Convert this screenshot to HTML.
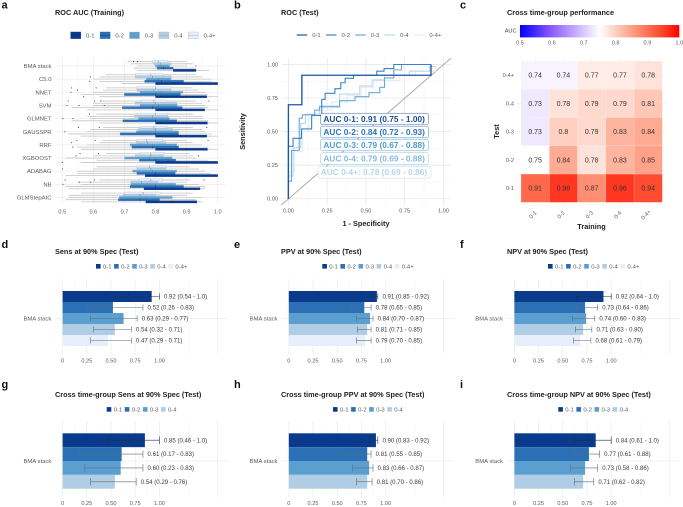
<!DOCTYPE html>
<html>
<head>
<meta charset="utf-8">
<style>
html,body{margin:0;padding:0;background:#fff;}
svg{display:block;font-family:"Liberation Sans",sans-serif;}
.pl{font-size:11px;font-weight:bold;fill:#111;}
.ti{font-size:7.3px;font-weight:bold;fill:#222;}
.at{font-size:7.3px;font-weight:bold;fill:#222;}
</style>
</head>
<body>
<svg id="fig" xmlns="http://www.w3.org/2000/svg" width="683" height="507" viewBox="0 0 683 507">
<rect x="0" y="0" width="683" height="507" fill="#fff"/>
<g id="layer"></g>
<text class="pl" x="1.5" y="8.5">a</text>
<text class="pl" x="234" y="8.5">b</text>
<text class="pl" x="460" y="8.5">c</text>
<text class="pl" x="1.5" y="248">d</text>
<text class="pl" x="234" y="248">e</text>
<text class="pl" x="460" y="248">f</text>
<text class="pl" x="1.5" y="388">g</text>
<text class="pl" x="234" y="388">h</text>
<text class="pl" x="460" y="388">i</text>
<text class="ti" x="55" y="15">ROC AUC (Training)</text>
<text class="ti" x="281" y="15">ROC (Test)</text>
<text class="ti" x="507" y="15">Cross time-group performance</text>
<text class="ti" x="55" y="254">Sens at 90% Spec (Test)</text>
<text class="ti" x="281" y="254">PPV at 90% Spec (Test)</text>
<text class="ti" x="507" y="254">NPV at 90% Spec (Test)</text>
<text class="ti" x="55" y="397">Cross time-group Sens at 90% Spec (Test)</text>
<text class="ti" x="281" y="397">Cross time-group PPV at 90% Spec (Test)</text>
<text class="ti" x="507" y="397">Cross time-group NPV at 90% Spec (Test)</text>
<text class="at" x="366" y="226" text-anchor="middle">1 - Specificity</text>
<text class="at" x="245" y="131.5" text-anchor="middle" transform="rotate(-90 245 131.5)">Sensitivity</text>
<text class="at" x="591.5" y="229" text-anchor="middle">Training</text>
<text class="at" x="499" y="131.5" text-anchor="middle" transform="rotate(-90 499 131.5)">Test</text>
</svg>
<script>
var groups = ['0-1','0-2','0-3','0-4','0-4+'];

/* Panel a: whisker-low, Q1, median, Q3, whisker-high for groups 0-1 .. 0-4+ */
var models = ['BMA stack','C5.0','NNET','SVM','GLMNET','GAUSSPR','RRF','XGBOOST','ADABAG','NB','GLMStepAIC'];
var aucBmaStack = [[.74,.857,.875,.93,.973],[.73,.805,.825,.857,.93],[.74,.8,.82,.845,.9],[.72,.795,.815,.85,.92],[.71,.79,.81,.84,.9]];
var aucC50 = [[.69,.8,.86,1,1],[.62,.765,.82,.89,.98],[.6,.77,.81,.85,.98],[.62,.735,.79,.85,.95],[.64,.735,.785,.825,.93]];
var aucNnet = [[.62,.8,.89,.965,1],[.56,.7,.8,.88,.97],[.6,.75,.82,.888,.96],[.63,.74,.795,.85,.94],[.64,.74,.8,.85,.92]];
var aucSvm = [[.58,.8,.875,.958,1],[.53,.693,.79,.886,.97],[.6,.75,.81,.87,.96],[.6,.735,.8,.868,.95],[.62,.755,.795,.836,.93]];
var aucGlmnet = [[.62,.8,.89,.967,1],[.53,.695,.8,.868,.97],[.59,.745,.79,.845,.95],[.58,.732,.79,.84,.95],[.61,.743,.8,.84,.92]];
var aucGausspr = [[.56,.8,.88,.965,1],[.52,.686,.8,.874,.98],[.58,.738,.8,.874,.96],[.59,.745,.8,.855,.95],[.63,.754,.795,.836,.92]];
var aucRrf = [[.56,.8,.85,.967,1],[.55,.724,.79,.874,.97],[.58,.718,.79,.868,.95],[.62,.738,.775,.833,.92],[.63,.74,.77,.823,.9]];
var aucXgboost = [[.56,.8,.87,1,1],[.61,.748,.8,.865,.97],[.51,.7,.78,.854,.93],[.6,.735,.785,.825,.92],[.64,.75,.785,.829,.91]];
var aucAdabag = [[.51,.767,.86,1,1],[.55,.74,.8,.863,.98],[.55,.726,.79,.868,.96],[.6,.74,.785,.833,.94],[.61,.74,.78,.836,.91]];
var aucNb = [[.52,.763,.85,.943,.96],[.51,.718,.8,.89,.96],[.56,.72,.8,.865,.94],[.55,.72,.755,.807,.9],[.62,.747,.785,.823,.91]];
var aucGlmStepAic = [[.56,.769,.85,.933,.95],[.51,.68,.75,.813,.93],[.52,.683,.77,.854,.95],[.52,.695,.75,.8,.9],[.56,.7,.76,.818,.92]];
var aucByModel = [aucBmaStack,aucC50,aucNnet,aucSvm,aucGlmnet,aucGausspr,aucRrf,aucXgboost,aucAdabag,aucNb,aucGlmStepAic];
/* outliers: value, group index */
var aucOutliers = [
 [[.729,4],[.742,4],[.93,2]],
 [[.59,3],[.588,1]],
 [[.609,4],[.549,3],[.53,4],[.528,2],[.569,0]],
 [[.519,4],[.604,4],[.624,4],[.515,2],[.554,2],[.635,2],[.972,4]],
 [[.502,2],[.534,2],[.588,4]],
 [[.552,4],[.619,4],[.965,4],[.508,2]],
 [[.53,3],[.547,4],[.606,4],[.969,4],[.534,1]],
 [[.557,4],[.544,3],[.616,4],[.938,3],[.5,0]],
 [[.501,3]],
 [[.509,4],[.555,3],[.591,3],[.603,4],[.956,4],[.502,2]],
 []
];
var aucTicks = [0.5,0.6,0.7,0.8,0.9,1.0];
var aucTickLabels = ['0.5','0.6','0.7','0.8','0.9','1.0'];

/* Panel b: ROC step curves as [false positive rate, true positive rate] */
var rocCurve01 = [[0,0],[0,.7],[.087,.7],[.087,.92],[.92,.92],[.92,1]];
var rocCurve02 = [[0,0],[0,.39],[.03,.39],[.03,.45],[.085,.45],[.085,.52],[.15,.52],[.15,.62],[.215,.62],[.215,.74],[.237,.74],[.237,.785],[.3,.785],[.3,.82],[.338,.82],[.338,.864],[.366,.864],[.366,.897],[.42,.897],[.42,.92],[.57,.92],[.57,.95],[.617,.95],[.617,.97],[.68,.97],[.68,1],[.92,1]];
var rocCurve03 = [[0,0],[0,.13],[.02,.13],[.02,.36],[.07,.36],[.07,.6],[.09,.6],[.09,.625],[.17,.625],[.17,.66],[.2,.66],[.2,.685],[.33,.685],[.33,.73],[.43,.73],[.43,.76],[.52,.76],[.52,.79],[.59,.79],[.59,.83],[.62,.83],[.62,.9],[.68,.9],[.68,.96],[.73,.96],[.73,1],[.88,1]];
var rocCurve04 = [[0,0],[0,.17],[.03,.17],[.03,.38],[.08,.38],[.08,.56],[.11,.56],[.11,.63],[.2,.63],[.2,.69],[.33,.69],[.33,.78],[.46,.78],[.46,.84],[.54,.84],[.54,.885],[.62,.885],[.62,.92],[.78,.92],[.78,.95],[.91,.95],[.91,.985],[.95,.985]];
var rocCurve04p = [[0,0],[0,.2],[.04,.2],[.04,.35],[.09,.35],[.09,.5],[.13,.5],[.13,.6],[.17,.6],[.17,.66],[.28,.66],[.28,.72],[.38,.72],[.38,.77],[.47,.77],[.47,.83],[.55,.83],[.55,.88],[.72,.88],[.72,.92],[.82,.92],[.82,.95],[.95,.95],[.95,.985]];
var rocCurves = [rocCurve01,rocCurve02,rocCurve03,rocCurve04,rocCurve04p];
var rocTicks = [0,0.25,0.5,0.75,1];
var rocTickLabels = ['0.00','0.25','0.50','0.75','1.00'];
var rocAucLabels = ['AUC 0-1: 0.91 (0.75 - 1.00)','AUC 0-2: 0.84 (0.72 - 0.93)','AUC 0-3: 0.79 (0.67 - 0.88)','AUC 0-4: 0.79 (0.69 - 0.88)','AUC 0-4+: 0.78 (0.69 - 0.86)'];

/* Panel c */
var heatTrain = ['0-1','0-2','0-3','0-4','0-4+'];
var heatTest = ['0-4+','0-4','0-3','0-2','0-1'];
var heatValues = [
 [.74,.74,.77,.77,.78],
 [.73,.78,.79,.79,.81],
 [.73,.8,.79,.83,.84],
 [.75,.84,.78,.83,.85],
 [.91,.96,.87,.96,.94]
];
var heatLabels = [
 ['0.74','0.74','0.77','0.77','0.78'],
 ['0.73','0.78','0.79','0.79','0.81'],
 ['0.73','0.8','0.79','0.83','0.84'],
 ['0.75','0.84','0.78','0.83','0.85'],
 ['0.91','0.96','0.87','0.96','0.94']
];
var aucScaleTicks = [0.5,0.6,0.7,0.8,0.9,1.0];
var aucScaleLabels = ['0.5','0.6','0.7','0.8','0.9','1.0'];

/* Panels d-i */
var barTicks = [0,0.25,0.5,0.75,1];
var barTickLabels = ['0','0.25','0.50','0.75','1.00'];
var sensVals = [.92,.52,.63,.54,.47];
var sensLo = [.54,.26,.29,.32,.29];
var sensHi = [1,.83,.77,.71,.71];
var sensLabels = ['0.92 (0.54 - 1.0)','0.52 (0.26 - 0.83)','0.63 (0.29 - 0.77)','0.54 (0.32 - 0.71)','0.47 (0.29 - 0.71)'];
var ppvVals = [.91,.78,.84,.81,.79];
var ppvLo = [.85,.65,.70,.71,.70];
var ppvHi = [.92,.85,.87,.85,.85];
var ppvLabels = ['0.91 (0.85 - 0.92)','0.78 (0.65 - 0.85)','0.84 (0.70 - 0.87)','0.81 (0.71 - 0.85)','0.79 (0.70 - 0.85)'];
var npvVals = [.92,.73,.74,.71,.68];
var npvLo = [.64,.64,.60,.63,.61];
var npvHi = [1,.86,.83,.80,.79];
var npvLabels = ['0.92 (0.64 - 1.0)','0.73 (0.64 - 0.86)','0.74 (0.60 - 0.83)','0.71 (0.63 - 0.80)','0.68 (0.61 - 0.79)'];
var crossSensVals = [.85,.61,.60,.54];
var crossSensLo = [.46,.17,.23,.29];
var crossSensHi = [1,.83,.83,.76];
var crossSensLabels = ['0.85 (0.46 - 1.0)','0.61 (0.17 - 0.83)','0.60 (0.23 - 0.83)','0.54 (0.29 - 0.76)'];
var crossPpvVals = [.90,.81,.83,.81];
var crossPpvLo = [.83,.55,.66,.70];
var crossPpvHi = [.92,.85,.87,.86];
var crossPpvLabels = ['0.90 (0.83 - 0.92)','0.81 (0.55 - 0.85)','0.83 (0.66 - 0.87)','0.81 (0.70 - 0.86)'];
var crossNpvVals = [.84,.77,.73,.71];
var crossNpvLo = [.61,.61,.58,.62];
var crossNpvHi = [1,.88,.86,.82];
var crossNpvLabels = ['0.84 (0.61 - 1.0)','0.77 (0.61 - 0.88)','0.73 (0.58 - 0.86)','0.71 (0.62 - 0.82)'];

var FILL = ['#0a3a8c','#2b6fb4','#5a9fd0','#afcde4','#e7eefb'];
var LINE = ['#1b55a3','#3b83c4','#68a9d8','#b9d8ee','#e2edf9'];
var TEXTC = ['#1b4f98','#2f76ba','#4f9bd0','#86bbe0','#b7d6ec'];
var GRID = '#ececec';
var AXT = '#5a5a5a';
var root = document.getElementById('layer');
var NS = 'http://www.w3.org/2000/svg';

function mk(tag, attrs, txt){
  var e = document.createElementNS(NS, tag);
  for (var k in attrs) e.setAttribute(k, attrs[k]);
  if (txt !== undefined) e.textContent = txt;
  root.appendChild(e);
  return e;
}
function ln(x1,y1,x2,y2,c,w,name){
  var e = mk('line',{x1:x1,y1:y1,x2:x2,y2:y2,stroke:c,'stroke-width':w});
  
  
  return e;
}
function tx(x,y,s,size,c,anchor,name,extra){
  var e = mk('text',{x:x,y:y,'font-size':size,fill:c,'text-anchor':anchor||'start'},s);
  if (extra) for (var k in extra) e.setAttribute(k, extra[k]);
  
  
  return e;
}

/* ===== Panel a ===== */
function ax(v){ return 62.3 + (v-0.5)/0.5*155.4; }
function ay(i){ return 66 + i*13.15; }
var LANE = 2.2;
aucTicks.forEach(function(t,i){
  ln(ax(t),58,ax(t),204,GRID,0.7,'auc-gridline');
  if (i<aucTicks.length-1) ln(ax(t+0.05),58,ax(t+0.05),204,'#f4f4f4',0.5,'auc-minor-gridline');
  tx(ax(t),213.5,aucTickLabels[i],5.6,AXT,'middle','auc-x-tick-label');
});
models.forEach(function(m,i){
  ln(55,ay(i),225,ay(i),GRID,0.7,'auc-model-gridline');
  tx(51.5,ay(i)+2,m,5.9,AXT,'end','auc-model-label');
});
models.forEach(function(m,i){
  [4,3,2,1,0].forEach(function(g){
    var d = aucByModel[i][g];
    var y = ay(i) + (2-g)*LANE;
    ln(ax(d[0]),y,ax(d[1]),y,'#c4c4c4',0.8,'auc-whisker-low');
    ln(ax(d[3]),y,ax(d[4]),y,'#c4c4c4',0.8,'auc-whisker-high');
    var b = mk('rect',{x:ax(d[1]),y:y-LANE/2,width:ax(d[3])-ax(d[1]),height:LANE,fill:FILL[g],stroke:g<2?FILL[g]:'#a9b2bd','stroke-width':0.3});
    
    
    ln(ax(d[2]),y-LANE/2,ax(d[2]),y+LANE/2,g<2?'#0a2a5c':'#6b7480',0.5,'auc-median');
  });
  aucOutliers[i].forEach(function(o){
    var c = mk('circle',{cx:ax(o[0]),cy:ay(i)+(2-o[1])*LANE,r:0.55,fill:'#333'});
    
    
  });
});
groups.forEach(function(g,i){
  var x = 70.7 + i*29.4;
  var s = mk('rect',{x:x,y:32,width:10,height:6.6,fill:FILL[i],stroke:i<2?FILL[i]:'#b3bcc8','stroke-width':0.4});
  
  
  ln(x,35.3,x+10,35.3,i<2?'#0a2a5c':'#9aa3ae',0.4,'auc-legend-median');
  tx(x+15.3,37.6,g,5.9,AXT,'start','auc-legend-label');
});

/* ===== Panel b ===== */
function rx(v){ return 288.4 + v*155; }
function ry(v){ return 198.7 - v*134.2; }
[-0.0,0.125,0.25,0.375,0.5,0.625,0.75,0.875,1].forEach(function(t,i){
  var c = i%2===0 ? '#e6e6e6' : '#f3f3f3';
  ln(rx(t),58,rx(t),205,c,i%2===0?0.7:0.5,'roc-gridline-x');
  ln(282,ry(t),451,ry(t),c,i%2===0?0.7:0.5,'roc-gridline-y');
});
rocTicks.forEach(function(t,i){
  tx(rx(t),212.5,rocTickLabels[i],5.6,AXT,'middle','roc-x-tick-label');
  tx(278,ry(t)+2,rocTickLabels[i],5.6,AXT,'end','roc-y-tick-label');
});
ln(rx(-0.045),ry(-0.047),rx(1.05),ry(1.048),'#adadad',1,'roc-diagonal');
[4,3,2,1,0].forEach(function(g){
  var d = rocCurves[g].map(function(p,j){ return (j?'L':'M')+rx(p[0]).toFixed(2)+' '+ry(p[1]).toFixed(2); }).join('');
  var p = mk('path',{d:d,fill:'none',stroke:LINE[g],'stroke-width':g===0?1.35:1.1,'stroke-linejoin':'miter'});
  
  
});
var labelX = [320.7,320.7,320.7,320.7,318];
var labelW = [107.6,107.6,107.6,107.6,113];
var labelY = [119,132,145,158.4,172.3];
rocAucLabels.forEach(function(s,i){
  var r = mk('rect',{x:labelX[i],y:labelY[i]-5.8,width:labelW[i],height:11.6,rx:1.8,fill:'#fff',stroke:TEXTC[i],'stroke-width':0.45});
  
  
  tx(labelX[i]+2.7,labelY[i]+2.9,s,8.35,TEXTC[i],'start','roc-auc-label',{'font-weight':'bold'});
});
groups.forEach(function(g,i){
  var x = 296.7 + i*29.3;
  ln(x,35,x+10.5,35,LINE[i],1.2,'roc-legend-line');
  tx(x+15.5,37.2,g,5.9,AXT,'start','roc-legend-label');
});

/* ===== Panel c ===== */
var SCALE = [[.5,[0,0,255]],[.6,[142,91,255]],[.7,[216,199,255]],[.75,[255,255,255]],[.8,[255,208,193]],[.85,[255,162,136]],[.9,[255,113,82]],[.95,[255,67,40]],[1,[255,0,0]]];
function heatColor(v){
  for (var i=0;i<SCALE.length-1;i++){
    var a=SCALE[i],b=SCALE[i+1];
    if (v<=b[0]){
      var t=Math.max(0,(v-a[0])/(b[0]-a[0]));
      return 'rgb('+[0,1,2].map(function(k){return Math.round(a[1][k]+(b[1][k]-a[1][k])*t);}).join(',')+')';
    }
  }
  return 'rgb(255,0,0)';
}
function hx(i){ return 521 + i*28.27; }
function hy(i){ return 61 + i*28.27; }
heatTrain.forEach(function(t,i){
  ln(hx(i+0.5),58,hx(i+0.5),205,GRID,0.7,'heatmap-gridline-x');
  var lx = hx(i+0.5)-1, ly = 216;
  tx(lx,ly,t,5.6,AXT,'middle','heatmap-x-tick-label',{transform:'rotate(-45 '+lx+' '+ly+')'});
});
heatTest.forEach(function(t,i){
  ln(517,hy(i+0.5),666,hy(i+0.5),GRID,0.7,'heatmap-gridline-y');
  tx(514,hy(i+0.5)+2,t,5.6,AXT,'end','heatmap-y-tick-label');
});
heatValues.forEach(function(row,r){
  row.forEach(function(v,c){
    var e = mk('rect',{x:hx(c),y:hy(r),width:28.27,height:28.27,fill:heatColor(v),stroke:'#fff','stroke-opacity':0.45,'stroke-width':0.3});
    
    
    tx(hx(c+0.5),hy(r+0.5)+2.4,heatLabels[r][c],7,'#333','middle','heatmap-cell-value');
  });
});
var defs = mk('defs',{});
var grad = document.createElementNS(NS,'linearGradient');
grad.setAttribute('id','aucScale');
SCALE.forEach(function(s){
  var st = document.createElementNS(NS,'stop');
  st.setAttribute('offset',((s[0]-0.5)/0.5*100)+'%');
  st.setAttribute('stop-color','rgb('+s[1].join(',')+')');
  grad.appendChild(st);
});
defs.appendChild(grad);
var cbar = mk('rect',{x:520,y:25,width:159.3,height:12.4,fill:'url(#aucScale)'});


tx(516.5,32.5,'AUC',5.6,'#444','end','auc-colorbar-title');
aucScaleTicks.forEach(function(t,i){
  tx(520+(t-0.5)/0.5*159.3,44.6,aucScaleLabels[i],5.6,AXT,'middle','auc-colorbar-tick-label');
});

/* ===== Panels d-i ===== */
var barGrid = [0,0.125,0.25,0.375,0.5,0.625,0.75,0.875,1,1.3,1.6];
function barPanel(name,x0,top,barH,vals,lo,hi,labels,capH,legX,legY,tickY){
  function bx(v){ return x0 + v*96.8; }
  var bottom = top + barH*vals.length;
  var mid = (top+bottom)/2;
  barGrid.forEach(function(t,i){
    var major = barTicks.indexOf(t)>=0 || t===1.6;
    ln(bx(t),top-12,bx(t),bottom+8.5,major?GRID:'#f5f5f5',major?0.7:0.5,name+'-gridline');
  });
  ln(x0-7.5,mid,x0+165,mid,GRID,0.7,name+'-category-gridline');
  barTicks.forEach(function(t,i){
    tx(bx(t),tickY,barTickLabels[i],5.6,AXT,'middle',name+'-x-tick-label');
  });
  tx(x0-11.3,mid+2,'BMA stack',5.9,AXT,'end',name+'-category-label');
  vals.forEach(function(v,i){
    var y = top + i*barH;
    var r = mk('rect',{x:bx(0),y:y,width:bx(v)-bx(0),height:barH,fill:FILL[i]});
    
    
    var cy = y+barH/2;
    var ec = i===0 ? '#1d2f52' : '#5f6b78';
    ln(bx(lo[i]),cy,bx(hi[i]),cy,ec,0.6,name+'-error-bar');
    ln(bx(lo[i]),cy-capH/2,bx(lo[i]),cy+capH/2,ec,0.6,name+'-error-cap-low');
    ln(bx(hi[i]),cy-capH/2,bx(hi[i]),cy+capH/2,ec,0.6,name+'-error-cap-high');
    tx(bx(hi[i])+4.6,cy+2.1,labels[i],6.07,'#3a3a3a','start',name+'-value-label');
  });
  vals.forEach(function(v,i){
    var lx = legX + i*18.1;
    var s = mk('rect',{x:lx,y:legY-2.3,width:4.6,height:4.6,fill:FILL[i]});
    
    
    tx(lx+7,legY+2,groups[i],5.9,AXT,'start',name+'-legend-label');
  });
}
barPanel('sens',62.6,291,11,sensVals,sensLo,sensHi,sensLabels,6,96,266.3,362.5);
barPanel('ppv',288.8,291,11,ppvVals,ppvLo,ppvHi,ppvLabels,6,322.3,266.3,362.5);
barPanel('npv',514.4,291,11,npvVals,npvLo,npvHi,npvLabels,6,548,266.3,362.5);
barPanel('cross-sens',62.6,433.3,13.85,crossSensVals,crossSensLo,crossSensHi,crossSensLabels,7.5,106.7,409.4,505);
barPanel('cross-ppv',288.8,433.3,13.85,crossPpvVals,crossPpvLo,crossPpvHi,crossPpvLabels,7.5,333,409.4,505);
barPanel('cross-npv',514.4,433.3,13.85,crossNpvVals,crossNpvLo,crossNpvHi,crossNpvLabels,7.5,558.3,409.4,505);
</script>
</body>
</html>
